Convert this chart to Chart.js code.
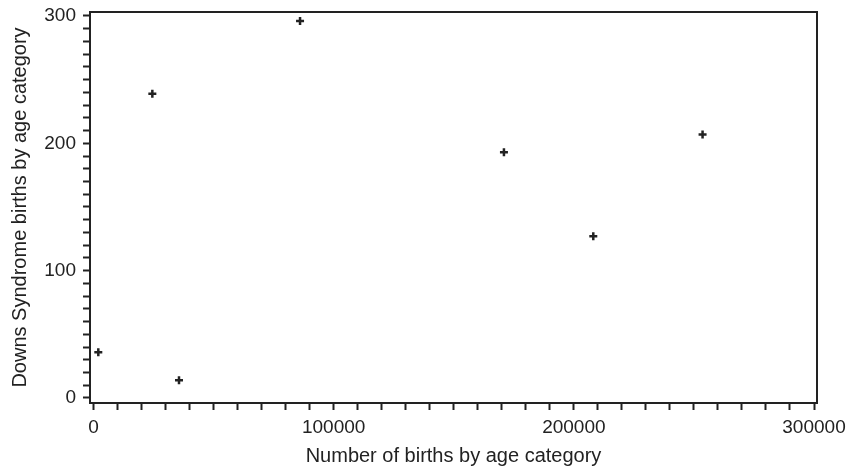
<!DOCTYPE html>
<html>
<head>
<meta charset="utf-8">
<title>Downs Syndrome births</title>
<script src="https://cdn.jsdelivr.net/npm/chart.js@4.4.1/dist/chart.umd.min.js"></script>
<style>
	body { margin: 0; background: #fff; }
	#wrap { width: 850px; height: 470px; }
</style>
</head>
<body>
<div id="wrap"><canvas id="scatterChart" width="850" height="470"></canvas></div>
<script>
// Data
const births = [2000, 24500, 35600, 86000, 170900, 208100, 253600];
const downsBirths = [36, 239, 14, 296, 193, 127, 207];

// Tick marks (minor every step) and the labelled ones
const xTickValues = [];
for (let v = 0; v <= 300000; v += 10000) xTickValues.push(v);
const xTickLabels = [0, 100000, 200000, 300000];
const yTickValues = [];
for (let v = 0; v <= 300; v += 10) yTickValues.push(v);
const yTickLabels = [0, 100, 200, 300];

const ink = '#222';
const fontFamily = "'Liberation Sans', Arial, Helvetica, sans-serif";

// Draw the top and right edges of the plot box
const frameBox = {
	id: 'frameBox',
	afterDraw(chart) {
		const { ctx, chartArea: a } = chart;
		ctx.save();
		ctx.strokeStyle = ink;
		ctx.lineWidth = 2;
		ctx.beginPath();
		ctx.moveTo(a.left, a.top);
		ctx.lineTo(a.right, a.top);
		ctx.lineTo(a.right, a.bottom);
		ctx.stroke();
		ctx.restore();
	},
};

const points = births.map((b, i) => ({ x: b, y: downsBirths[i] }));

new Chart(document.getElementById('scatterChart'), {
	type: 'scatter',
	data: {
		datasets: [
			{
				data: points,
				pointStyle: 'cross',
				pointRadius: 4,
				pointHoverRadius: 4,
				borderColor: ink,
				backgroundColor: ink,
				borderWidth: 2.5,
			},
		],
	},
	options: {
		responsive: false,
		animation: false,
		layout: { padding: { top: 12, right: 33, left: 0, bottom: 0 } },
		plugins: {
			legend: { display: false },
			tooltip: { enabled: false },
		},
		scales: {
			x: {
				type: 'linear',
				min: -1457,
				max: 301249,
				afterBuildTicks: (scale) => {
					scale.ticks = xTickValues.map((v) => ({ value: v }));
				},
				afterFit: (scale) => {
					scale.height = 67;
					scale.paddingLeft = 0;
					scale.paddingRight = 0;
				},
				border: { display: true, color: ink, width: 2 },
				grid: {
					drawOnChartArea: false,
					drawTicks: true,
					tickLength: 7,
					tickColor: ink,
					tickWidth: 2,
				},
				ticks: {
					autoSkip: false,
					maxRotation: 0,
					padding: 6,
					color: ink,
					font: { family: fontFamily, size: 19 },
					callback: (v) => (xTickLabels.includes(v) ? String(v) : ''),
				},
				title: {
					display: true,
					text: 'Number of births by age category',
					color: ink,
					font: { family: fontFamily, size: 20 },
					padding: { top: 0, bottom: 2 },
				},
			},
			y: {
				type: 'linear',
				min: -3.93,
				max: 303.14,
				afterBuildTicks: (scale) => {
					scale.ticks = yTickValues.map((v) => ({ value: v }));
				},
				afterFit: (scale) => {
					scale.width = 90;
					scale.paddingTop = 0;
					scale.paddingBottom = 0;
				},
				border: { display: true, color: ink, width: 2 },
				grid: {
					drawOnChartArea: false,
					drawTicks: true,
					tickLength: 7,
					tickColor: ink,
					tickWidth: 2,
				},
				ticks: {
					autoSkip: false,
					padding: 7,
					color: ink,
					font: { family: fontFamily, size: 19 },
					callback: (v) => (yTickLabels.includes(v) ? String(v) : ''),
				},
				title: {
					display: true,
					text: 'Downs Syndrome births by age category',
					color: ink,
					font: { family: fontFamily, size: 20 },
					padding: { top: 8, bottom: 0 },
				},
			},
		},
	},
	plugins: [frameBox],
});
</script>
</body>
</html>
